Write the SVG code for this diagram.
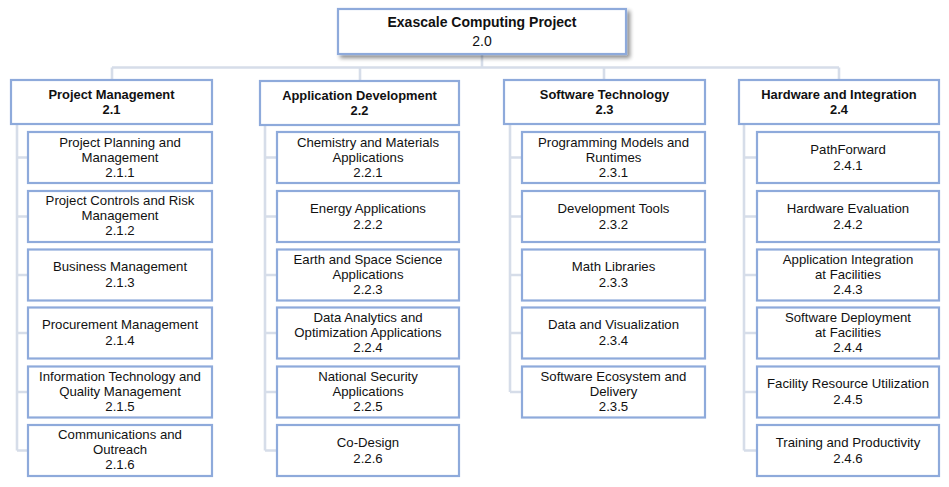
<svg xmlns="http://www.w3.org/2000/svg" width="949" height="487" viewBox="0 0 949 487">
<style>
.box{fill:#ffffff;stroke:#8eaadb;stroke-width:2.2}
.t{font-family:"Liberation Sans",Arial,sans-serif;font-size:13.2px;fill:#111;text-anchor:middle}
.b{font-weight:bold;font-size:12.9px}
.r{font-size:14px}
.rb{font-size:14px;font-weight:bold}
.conn{stroke:#d6dde9;stroke-width:2.6;fill:none}
</style>
<defs>
<filter id="sh" x="-10%" y="-20%" width="130%" height="150%">
<feGaussianBlur in="SourceAlpha" stdDeviation="2"/>
<feOffset dx="3" dy="3" result="o"/>
<feComponentTransfer><feFuncA type="linear" slope="0.45"/></feComponentTransfer>
<feMerge><feMergeNode/><feMergeNode in="SourceGraphic"/></feMerge>
</filter>
</defs>
<rect width="949" height="487" fill="#ffffff"/>
<g id="connectors" class="conn">
<path d="M482 54V67.5M112 67.5H839M112 67.5V79M360 67.5V80M604 67.5V79M839 67.5V79"/>
<path d="M17 125V450.5M17 157.5H27M17 216.5H27M17 275H27M17 333H27M17 392H27M17 450.5H27"/>
<path d="M265 126V450.5M265 157.5H276M265 216.5H276M265 275H276M265 333H276M265 392H276M265 450.5H276"/>
<path d="M510 125V392M510 157.5H521M510 216.5H521M510 275H521M510 333H521M510 392H521"/>
<path d="M744 125V450.5M744 157.5H756M744 216.5H756M744 275H756M744 333H756M744 392H756M744 450.5H756"/>
</g>
<g id="n2_0"><rect class="box" x="338" y="9" width="288" height="45" filter="url(#sh)"/>
<text class="t rb" x="482" y="27">Exascale Computing Project</text><text class="t r" x="482" y="46">2.0</text></g>

<g id="n2_1"><rect class="box" x="11" y="80" width="201" height="44"/>
<text class="t b" x="111.5" y="98.5">Project Management</text><text class="t b" x="111.5" y="113.5">2.1</text></g>
<g id="n2_2"><rect class="box" x="260" y="81" width="199" height="44"/>
<text class="t b" x="359.5" y="99.5">Application Development</text><text class="t b" x="359.5" y="114.5">2.2</text></g>
<g id="n2_3"><rect class="box" x="504" y="80" width="201" height="44"/>
<text class="t b" x="604.5" y="98.5">Software Technology</text><text class="t b" x="604.5" y="113.5">2.3</text></g>
<g id="n2_4"><rect class="box" x="739" y="80" width="200" height="44"/>
<text class="t b" x="839" y="98.5">Hardware and Integration</text><text class="t b" x="839" y="113.5">2.4</text></g>

<!-- PM children -->
<g id="n2_1_1"><rect class="box" x="28" y="132" width="184" height="51"/>
<text class="t" x="120" y="146.5">Project Planning and</text><text class="t" x="120" y="161.5">Management</text><text class="t" x="120" y="176.5">2.1.1</text></g>
<g id="n2_1_2"><rect class="box" x="28" y="191" width="184" height="51"/>
<text class="t" x="120" y="205">Project Controls and Risk</text><text class="t" x="120" y="220">Management</text><text class="t" x="120" y="235">2.1.2</text></g>
<g id="n2_1_3"><rect class="box" x="28" y="249.5" width="184" height="51"/>
<text class="t" x="120" y="271">Business Management</text><text class="t" x="120" y="287">2.1.3</text></g>
<g id="n2_1_4"><rect class="box" x="28" y="307.5" width="184" height="51"/>
<text class="t" x="120" y="329">Procurement Management</text><text class="t" x="120" y="345">2.1.4</text></g>
<g id="n2_1_5"><rect class="box" x="28" y="366.5" width="184" height="51"/>
<text class="t" x="120" y="381">Information Technology and</text><text class="t" x="120" y="396">Quality Management</text><text class="t" x="120" y="411">2.1.5</text></g>
<g id="n2_1_6"><rect class="box" x="28" y="425" width="184" height="51"/>
<text class="t" x="120" y="439">Communications and</text><text class="t" x="120" y="454">Outreach</text><text class="t" x="120" y="469">2.1.6</text></g>

<!-- AD children -->
<g id="n2_2_1"><rect class="box" x="277" y="132" width="182" height="51"/>
<text class="t" x="368" y="146.5">Chemistry and Materials</text><text class="t" x="368" y="161.5">Applications</text><text class="t" x="368" y="176.5">2.2.1</text></g>
<g id="n2_2_2"><rect class="box" x="277" y="191" width="182" height="51"/>
<text class="t" x="368" y="213">Energy Applications</text><text class="t" x="368" y="229">2.2.2</text></g>
<g id="n2_2_3"><rect class="box" x="277" y="249.5" width="182" height="51"/>
<text class="t" x="368" y="264">Earth and Space Science</text><text class="t" x="368" y="279">Applications</text><text class="t" x="368" y="294">2.2.3</text></g>
<g id="n2_2_4"><rect class="box" x="277" y="307.5" width="182" height="51"/>
<text class="t" x="368" y="322">Data Analytics and</text><text class="t" x="368" y="337">Optimization Applications</text><text class="t" x="368" y="352">2.2.4</text></g>
<g id="n2_2_5"><rect class="box" x="277" y="366.5" width="182" height="51"/>
<text class="t" x="368" y="381">National Security</text><text class="t" x="368" y="396">Applications</text><text class="t" x="368" y="411">2.2.5</text></g>
<g id="n2_2_6"><rect class="box" x="277" y="425" width="182" height="51"/>
<text class="t" x="368" y="446.5">Co-Design</text><text class="t" x="368" y="462.5">2.2.6</text></g>

<!-- ST children -->
<g id="n2_3_1"><rect class="box" x="522" y="132" width="183" height="51"/>
<text class="t" x="613.5" y="146.5">Programming Models and</text><text class="t" x="613.5" y="161.5">Runtimes</text><text class="t" x="613.5" y="176.5">2.3.1</text></g>
<g id="n2_3_2"><rect class="box" x="522" y="191" width="183" height="51"/>
<text class="t" x="613.5" y="213">Development Tools</text><text class="t" x="613.5" y="229">2.3.2</text></g>
<g id="n2_3_3"><rect class="box" x="522" y="249.5" width="183" height="51"/>
<text class="t" x="613.5" y="271">Math Libraries</text><text class="t" x="613.5" y="287">2.3.3</text></g>
<g id="n2_3_4"><rect class="box" x="522" y="307.5" width="183" height="51"/>
<text class="t" x="613.5" y="329">Data and Visualization</text><text class="t" x="613.5" y="345">2.3.4</text></g>
<g id="n2_3_5"><rect class="box" x="522" y="366.5" width="183" height="51"/>
<text class="t" x="613.5" y="381">Software Ecosystem and</text><text class="t" x="613.5" y="396">Delivery</text><text class="t" x="613.5" y="411">2.3.5</text></g>

<!-- HI children -->
<g id="n2_4_1"><rect class="box" x="757" y="132" width="182" height="51"/>
<text class="t" x="848" y="154">PathForward</text><text class="t" x="848" y="170">2.4.1</text></g>
<g id="n2_4_2"><rect class="box" x="757" y="191" width="182" height="51"/>
<text class="t" x="848" y="213">Hardware Evaluation</text><text class="t" x="848" y="229">2.4.2</text></g>
<g id="n2_4_3"><rect class="box" x="757" y="249.5" width="182" height="51"/>
<text class="t" x="848" y="264">Application Integration</text><text class="t" x="848" y="279">at Facilities</text><text class="t" x="848" y="294">2.4.3</text></g>
<g id="n2_4_4"><rect class="box" x="757" y="307.5" width="182" height="51"/>
<text class="t" x="848" y="322">Software Deployment</text><text class="t" x="848" y="337">at Facilities</text><text class="t" x="848" y="352">2.4.4</text></g>
<g id="n2_4_5"><rect class="box" x="757" y="366.5" width="182" height="51"/>
<text class="t" x="848" y="388">Facility Resource Utilization</text><text class="t" x="848" y="404">2.4.5</text></g>
<g id="n2_4_6"><rect class="box" x="757" y="425" width="182" height="51"/>
<text class="t" x="848" y="446.5">Training and Productivity</text><text class="t" x="848" y="462.5">2.4.6</text></g>
</svg>
